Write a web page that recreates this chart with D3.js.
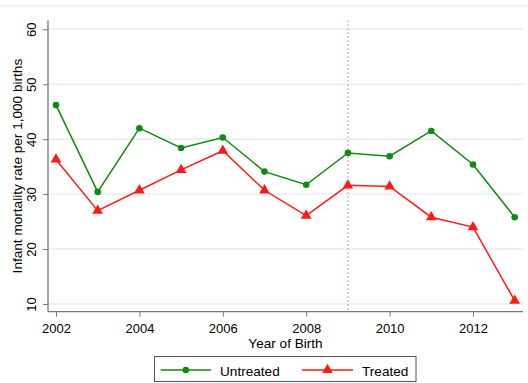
<!DOCTYPE html>
<html><head><meta charset="utf-8">
<script src="https://d3js.org/d3.v7.min.js"></script>
<style>body{margin:0;background:#fff}svg{display:block;font-family:"Liberation Sans",Arial,sans-serif}</style>
</head><body><svg id="c" width="528" height="383"></svg>
<script>
const years = [2002,2003,2004,2005,2006,2007,2008,2009,2010,2011,2012,2013];
const untreated = [46.2,30.4,42.0,38.4,40.3,34.1,31.7,37.5,36.9,41.5,35.4,25.8];
const treated = [36.3,27.0,30.7,34.4,37.9,30.7,26.1,31.6,31.4,25.8,24.0,10.6];
const yTicks = [10,20,30,40,50,60];
const xTicks = [2002,2004,2006,2008,2010,2012];
const cutoffYear = 2009;
const seriesNames = ["Untreated","Treated"];

const svg = d3.select("#c");
const x = d3.scaleLinear().domain([2002,2013]).range([56,514.7]);
const y = d3.scaleLinear().domain([10,60]).range([304,29.3]);
const pLeft = 48, pRight = 523, pTop = 20.5, pBottom = 311.7;
const tickFont = "13px", labFont = "13.6px";

svg.append("line").attr("x1",0).attr("x2",528).attr("y1",5.7).attr("y2",5.7).attr("stroke","#eaf2f3").attr("stroke-width",1.5);

// gridlines
svg.append("g").selectAll("line").data(yTicks).join("line")
  .attr("x1",pLeft).attr("x2",pRight).attr("y1",d=>y(d)).attr("y2",d=>y(d))
  .attr("stroke","#e3eeef").attr("stroke-width",1.4);

// y axis
const ya = svg.append("g").attr("transform",`translate(${pLeft},0)`);
ya.call(d3.axisLeft(y).tickValues(yTicks).tickSize(5).tickPadding(3));
ya.select(".domain").remove();
ya.append("line").attr("x1",0).attr("x2",0).attr("y1",pTop).attr("y2",pBottom).attr("stroke","#777").attr("stroke-width",1.3);
ya.selectAll(".tick line").attr("stroke","#777");
ya.selectAll(".tick text").attr("fill","#000").style("font-size",tickFont)
  .attr("x",null).attr("dy",null).attr("text-anchor","middle")
  .attr("transform","translate(-12,0) rotate(-90)").attr("y",0);

// x axis
const xa = svg.append("g").attr("transform",`translate(0,${pBottom})`);
xa.call(d3.axisBottom(x).tickValues(xTicks).tickFormat(d3.format("d")).tickSize(5).tickPadding(3));
xa.select(".domain").remove();
xa.append("line").attr("x1",pLeft).attr("x2",pRight).attr("y1",0).attr("y2",0).attr("stroke","#777").attr("stroke-width",1.3);
xa.selectAll(".tick line").attr("stroke","#777");
xa.selectAll(".tick text").attr("fill","#000").style("font-size",tickFont).attr("dy","13.6");

// titles
svg.append("text").attr("x",(pLeft+pRight)/2).attr("y",348.2).attr("text-anchor","middle").style("font-size",labFont).text("Year of Birth");
svg.append("text").attr("transform",`translate(21.5,${(pTop+pBottom)/2}) rotate(-90)`).attr("text-anchor","middle").style("font-size",labFont).text("Infant mortality rate per 1,000 births");

// cutoff line
svg.append("line").attr("x1",x(cutoffYear)).attr("x2",x(cutoffYear)).attr("y1",pTop).attr("y2",pBottom)
  .attr("stroke","#d6789a").attr("stroke-width",1.3).attr("stroke-dasharray","1.3,2.7");

const green = "#118a11", red = "#ff1a1a";
const line = (vals)=>d3.line().x((d,i)=>x(years[i])).y(d=>y(d))(vals);
svg.append("path").attr("d",line(untreated)).attr("fill","none").attr("stroke",green).attr("stroke-width",1.5);
svg.append("path").attr("d",line(treated)).attr("fill","none").attr("stroke",red).attr("stroke-width",1.5);
svg.append("g").selectAll("circle").data(untreated).join("circle")
  .attr("cx",(d,i)=>x(years[i])).attr("cy",d=>y(d)).attr("r",3.3).attr("fill",green);
const tri = d3.symbol().type(d3.symbolTriangle).size(50);
svg.append("g").selectAll("path").data(treated).join("path")
  .attr("d",tri).attr("transform",(d,i)=>`translate(${x(years[i])},${y(d)})`).attr("fill",red);

// legend
const lg = svg.append("g");
lg.append("rect").attr("x",154.5).attr("y",356.5).attr("width",261.5).attr("height",25).attr("fill","#fff").attr("stroke","#555").attr("stroke-width",1);
const entries = [{name:seriesNames[0],c:green,x0:160.7,x1:211,tx:220,m:"c"},{name:seriesNames[1],c:red,x0:302,x1:353,tx:362,m:"t"}];
entries.forEach(e=>{
  lg.append("line").attr("x1",e.x0).attr("x2",e.x1).attr("y1",370).attr("y2",370).attr("stroke",e.c).attr("stroke-width",1.5);
  if(e.m==="c") lg.append("circle").attr("cx",(e.x0+e.x1)/2).attr("cy",370).attr("r",3.3).attr("fill",e.c);
  else lg.append("path").attr("d",tri).attr("transform",`translate(${(e.x0+e.x1)/2},370)`).attr("fill",e.c);
  lg.append("text").attr("x",e.tx).attr("y",375.5).style("font-size",labFont).text(e.name);
});
</script></body></html>
